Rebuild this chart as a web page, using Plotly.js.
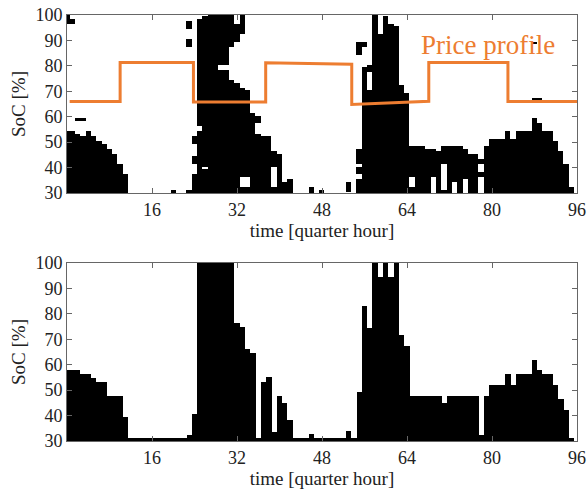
<!DOCTYPE html>
<html>
<head>
<meta charset="utf-8">
<script src="https://cdn.plot.ly/plotly-3.0.1.min.js"></script>
<style>html,body{margin:0;padding:0;background:#fff;}#chart{width:587px;height:491px;}</style>
</head>
<body>
<div id="chart"></div>
<script>
// ---- data ----
// quarter-hour index for every column
const quarters = Array.from({length: 97}, (_, i) => i);
// SoC levels (rows of the top map)
const socLevels = Array.from({length: 71}, (_, i) => 30 + i);

// top panel: black runs per quarter hour  [quarter, socFrom, socTo]
const topRuns = [
[0,30,54],[0,97,100],[1,30,54],[1,97,98],[2,30,53],[2,59,59],[3,30,52],[3,59,59],
[4,30,54],[5,30,52],[6,30,50],[7,30,49],[8,30,47],[9,30,45],[10,30,41],[11,30,37],
[20,30,31],
[23,30,31],[23,88,90],[23,95,97],
[24,30,37],[24,42,44],[24,50,52],
[25,30,54],[25,57,98],[26,30,39],[26,41,99],[27,30,100],[28,30,100],
[29,30,78],[29,81,100],[30,30,78],[30,81,100],[31,30,74],[31,88,100],
[32,30,73],[32,90,96],[33,30,32],[33,37,71],[33,93,100],[34,30,32],[34,37,70],
[35,30,61],[36,30,53],[36,58,60],[37,30,52],[38,30,52],[39,30,32],[39,41,46],
[40,30,45],[41,30,34],[42,30,35],[46,30,32],[48,30,31],[53,31,34],
[55,30,35],[55,38,40],[55,42,47],[55,85,89],[56,30,79],[56,88,89],[57,30,70],[57,78,80],
[58,30,100],[59,30,92],[60,30,99],[61,30,96],[62,30,95],[63,30,72],[64,30,69],
[65,30,32],[65,37,48],[66,30,48],[67,30,48],[68,30,47],[69,37,47],[70,30,46],
[71,30,31],[71,42,48],[72,30,48],[73,35,48],[74,30,48],[75,36,47],[76,30,45],[77,30,45],
[78,37,38],[78,42,43],
[79,30,48],[80,30,51],[81,30,51],[82,30,51],[83,30,54],[84,30,51],[85,30,54],[86,30,54],
[87,30,54],[88,30,59],[88,67,67],[88,89,89],[89,30,57],[89,67,67],[90,30,54],[91,30,54],
[92,30,50],[93,30,46],[94,30,41],[95,30,32]
];

// price profile (drawn on the SoC scale)
const priceX = [0.5, 10, 10, 23.8, 23.8, 37.4, 37.4, 53.6, 53.6, 68.1, 68.1, 83, 83, 96];
const priceY = [66, 66, 81.3, 81.3, 65.8, 65.8, 81.2, 80.6, 64.8, 66.1, 81.3, 81.3, 66, 66];

// bottom panel: SoC per quarter hour (0..95)
const bottomQuarter = Array.from({length: 96}, (_, i) => i);
const bottomSoC = [
58,58,58,56.5,56.5,54.7,53.4,53.4,47.8,47.8,47.8,39.6,
31,31,31,31,31,31,31,31,31,31,31,32.4,40.8,
100,100,100,100,100,100,100,76.3,75,66.1,64.8,31,53.4,55,33.7,47.8,45.1,38.1,
31,31,31,32.6,31,31,31,31,31,31,34,31,49.4,83.1,74.6,100,94.6,100,94.6,100,71.7,67.4,
47.8,47.8,47.8,47.8,47.8,47.8,45.1,47.8,47.8,47.8,47.8,47.8,47.8,32.4,47.8,
52,52,52,56.2,52,56.2,56.2,56.2,61.8,57.8,56.2,56.2,52,46.4,42.2,31
];

const xTicks = [16, 32, 48, 64, 80, 96];
const yTicks = [30, 40, 50, 60, 70, 80, 90, 100];

// ---- build map ----
const z = socLevels.map(() => quarters.map(() => 0));
topRuns.forEach(([q, lo, hi]) => {
  for (let v = lo; v <= hi; v++) z[v - 30][q] = 1;
});

const FONT = 'Liberation Serif, Times New Roman, serif';
const ORANGE = '#ED7D31';

const traces = [
  {type: 'heatmap', x: quarters, y: socLevels, z: z, xaxis: 'x', yaxis: 'y',
   colorscale: [[0, '#ffffff'], [1, '#000000']], zmin: 0, zmax: 1, showscale: false, hoverinfo: 'skip'},
  {type: 'scatter', mode: 'lines', x: priceX, y: priceY, xaxis: 'x', yaxis: 'y',
   line: {color: ORANGE, width: 3}, hoverinfo: 'skip'},
  {type: 'bar', x: bottomQuarter, y: bottomSoC, xaxis: 'x2', yaxis: 'y2', width: 1,
   marker: {color: '#000000', line: {width: 0}}, hoverinfo: 'skip'}
];

const xdom = [67/587, 577/587];
function xAx(anchor) {
  return {domain: xdom, anchor: anchor, range: [0, 96], tickvals: xTicks, ticks: 'inside', ticklen: 5,
    tickcolor: '#666', showline: true, linecolor: '#666', linewidth: 1, mirror: 'allticks',
    showgrid: false, zeroline: false, tickfont: {family: FONT, size: 18, color: '#222'},
    title: {text: 'time [quarter hour]', font: {family: FONT, size: 19, color: '#222'}, standoff: 1}};
}
function yAx(anchor, dom) {
  return {domain: dom, anchor: anchor, range: [30, 100], tickvals: yTicks, ticks: 'inside', ticklen: 5,
    tickcolor: '#666', showline: true, linecolor: '#666', linewidth: 1, mirror: 'allticks',
    showgrid: false, zeroline: false, tickfont: {family: FONT, size: 18, color: '#222'},
    title: {text: 'SoC [%]', font: {family: FONT, size: 19, color: '#222'}, standoff: 4}};
}

const layout = {
  width: 587, height: 491, margin: {l: 0, r: 0, t: 0, b: 0, pad: 0},
  paper_bgcolor: '#fff', plot_bgcolor: '#fff', showlegend: false, bargap: 0,
  xaxis: xAx('y'), yaxis: yAx('x', [1 - 193/491, 1 - 15/491]),
  xaxis2: xAx('y2'), yaxis2: yAx('x2', [1 - 441/491, 1 - 263/491]),
  annotations: [{xref: 'x', yref: 'y', x: 66.3, y: 88.2, xanchor: 'left', yanchor: 'middle',
    text: 'Price profile', showarrow: false, font: {family: FONT, size: 27, color: ORANGE}}]
};

Plotly.newPlot('chart', traces, layout, {staticPlot: true, displayModeBar: false});
</script>
</body>
</html>
